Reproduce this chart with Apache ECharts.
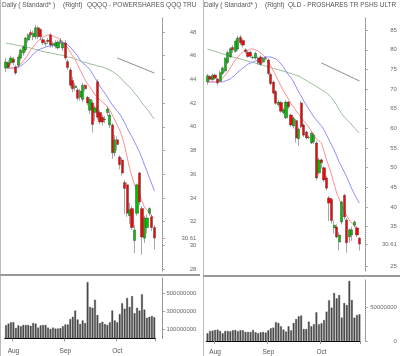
<!DOCTYPE html>
<html><head><meta charset="utf-8">
<script src="https://cdn.jsdelivr.net/npm/echarts@6/dist/echarts.min.js"></script>
<style>html,body{margin:0;padding:0;background:#fff}#c{width:400px;height:356px}</style>
</head><body><div id="c"></div>
<script>
// ---------- data ----------
const dates = ['2008-07-29','2008-07-30','2008-07-31','2008-08-01','2008-08-04','2008-08-05','2008-08-06','2008-08-07','2008-08-08',
'2008-08-11','2008-08-12','2008-08-13','2008-08-14','2008-08-15','2008-08-18','2008-08-19','2008-08-20','2008-08-21','2008-08-22',
'2008-08-25','2008-08-26','2008-08-27','2008-08-28','2008-08-29','2008-09-02','2008-09-03','2008-09-04','2008-09-05',
'2008-09-08','2008-09-09','2008-09-10','2008-09-11','2008-09-12','2008-09-15','2008-09-16','2008-09-17','2008-09-18','2008-09-19',
'2008-09-22','2008-09-23','2008-09-24','2008-09-25','2008-09-26','2008-09-29','2008-09-30','2008-10-01','2008-10-02','2008-10-03',
'2008-10-06','2008-10-07','2008-10-08','2008-10-09','2008-10-10','2008-10-13','2008-10-14','2008-10-15','2008-10-16','2008-10-17',
'2008-10-20','2008-10-21','2008-10-22'];
const monthStarts = ['2008-08-01','2008-09-02','2008-10-01'];
const monthNames = ['Aug','Sep','Oct'];

// QQQQ  [open, close, low, high]
const qqqOHLC = [
[44.96,45.47,44.60,45.80],[45.38,45.05,44.90,45.60],[45.40,45.80,45.20,46.00],[45.70,45.45,45.20,45.90],[45.05,44.54,44.37,45.20],
[45.20,45.89,45.00,46.10],[45.80,46.48,45.60,46.60],[46.23,46.73,46.00,46.90],[46.48,47.50,46.30,47.60],[47.32,47.75,47.10,47.90],
[47.95,47.75,47.50,48.20],[47.60,47.90,47.30,48.10],[47.60,48.35,47.40,48.60],[48.35,47.60,47.40,48.50],[48.20,47.60,47.30,48.30],
[47.35,47.10,46.90,47.50],[47.00,47.05,46.80,47.20],[47.30,47.20,47.00,47.50],[47.75,46.90,46.70,47.90],[46.95,47.00,46.70,47.20],
[46.80,47.10,46.60,47.30],[46.65,47.15,46.50,47.30],[47.20,47.25,47.00,47.50],[46.65,47.07,46.40,47.20],[47.07,45.80,45.60,47.30],
[45.50,45.00,44.80,45.70],[44.80,43.50,43.30,45.00],[43.90,43.20,42.90,44.20],[43.30,43.45,43.00,43.70],[43.10,42.40,42.20,43.30],
[42.50,43.00,42.20,43.20],[42.30,43.50,42.10,43.70],[43.50,43.20,43.00,43.60],[42.50,42.00,41.80,42.60],[41.40,42.30,41.10,42.50],
[42.00,40.20,39.50,42.20],[41.20,41.60,40.50,41.80],[43.80,40.80,40.60,44.00],[41.20,40.40,40.20,41.40],[40.80,40.40,40.10,41.00],
[40.60,40.65,40.30,40.90],[41.20,41.50,40.90,41.70],[40.15,41.00,39.90,41.30],[40.15,37.80,37.30,40.30],[37.80,38.90,37.50,39.30],
[38.90,38.50,38.00,39.20],[37.45,36.80,36.40,37.60],[37.20,36.10,35.90,37.40],[35.30,34.80,32.60,35.50],[35.10,32.70,32.40,35.30],
[32.50,33.00,31.80,33.60],[33.10,31.50,31.30,33.30],[30.40,31.30,29.35,31.70],[32.70,35.10,32.50,35.20],[36.10,33.65,33.40,36.20],
[33.10,30.70,29.20,33.30],[30.60,32.30,30.20,32.50],[31.50,32.30,31.00,32.60],[32.70,33.10,32.50,33.20],[32.40,31.50,31.20,32.60],
[31.50,30.61,29.65,31.70]];
const qqqMaRed = [44.96,44.96,44.96,44.96,45.05,45.13,45.30,45.55,45.81,46.14,46.48,46.73,46.99,47.24,47.41,47.58,47.66,47.75,47.75,47.66,
47.58,47.49,47.32,47.16,46.90,46.65,46.31,45.97,45.64,45.22,44.79,44.37,43.95,43.61,43.36,43.02,42.68,42.51,42.26,42.09,
41.92,41.67,41.42,41.00,40.57,40.15,39.73,39.14,38.38,37.45,36.52,35.76,35.09,34.67,34.24,33.74,33.23,32.98,32.73,32.47,32.30];
const qqqMaBlue = [44.96,44.96,44.96,44.96,44.96,45.05,45.13,45.30,45.47,45.64,45.89,46.14,46.31,46.48,46.57,46.65,46.73,46.78,46.82,46.86,
46.90,46.99,47.07,47.11,47.07,46.90,46.73,46.48,46.23,45.97,45.64,45.38,45.22,45.05,44.79,44.46,44.12,43.78,43.44,43.11,
42.85,42.51,42.18,41.84,41.59,41.33,41.08,40.74,40.32,39.90,39.48,39.14,38.72,38.30,37.87,37.37,36.78,36.27,35.68,35.17,34.58];
const qqqMaGreen = [47.07,47.03,46.99,46.95,46.90,46.86,46.82,46.78,46.73,46.69,46.65,46.57,46.52,46.48,46.40,46.35,46.31,46.27,46.23,46.19,
46.14,46.10,46.06,46.02,45.97,45.89,45.85,45.81,45.72,45.64,45.55,45.47,45.43,45.38,45.30,45.26,45.22,45.13,45.09,45.05,
44.96,44.88,44.79,44.67,44.54,44.37,44.20,43.95,43.78,43.53,43.36,43.11,42.85,42.60,42.35,42.01,41.76,41.50,41.25,40.91,40.66];
const qqqMaGray = [null,null,null,null,null,null,null,null,null,null,null,null,null,null,null,null,null,null,null,null,
null,null,null,null,null,null,null,null,null,null,null,null,null,null,null,null,null,null,null,null,null,null,null,null,null,
45.81,45.72,45.64,45.55,45.47,45.38,45.30,45.22,45.13,45.05,44.96,44.88,44.79,44.71,44.62,44.54];
const qqqVolume = [145,165,180,180,115,145,135,150,150,150,140,170,165,120,145,150,150,120,105,120,
110,110,115,135,155,155,215,240,310,210,160,200,170,625,350,340,430,260,170,185,160,150,180,
310,200,180,270,390,330,450,350,470,280,340,310,490,320,230,240,250,235].map(v => v * 1e6);
const qqqPriceTicks = [28,30,32,34,36,38,40,42,44,46,48,30.61];
const qqqVolTicks = [100000000,300000000,500000000];

// QLD  [open, close, low, high]
const qldOHLC = [
[71.9,73.4,71.1,73.9],[73.2,72.5,72.0,73.6],[72.4,73.5,72.1,74.0],[73.6,72.8,72.4,73.9],[72.6,71.6,71.0,72.8],
[72.0,74.2,71.8,74.8],[74.0,75.4,73.6,75.8],[74.6,77.8,74.2,78.2],[76.8,79.3,76.4,79.8],[78.2,80.3,77.9,80.7],
[80.6,80.0,79.2,81.2],[79.6,82.2,79.3,82.6],[80.2,83.0,79.8,83.6],[83.2,81.8,81.2,83.8],[82.4,81.2,80.6,82.8],
[80.0,79.6,79.0,80.4],[79.4,78.3,78.0,79.8],[79.4,78.4,78.0,79.8],[78.0,78.1,77.6,78.5],[77.9,79.1,77.5,79.5],
[77.9,76.7,76.3,78.3],[78.2,76.3,76.0,78.6],[76.9,77.8,76.6,78.2],[77.9,77.95,77.4,78.3],[77.4,74.0,73.6,77.8],
[73.8,71.4,71.0,74.2],[71.8,69.0,68.6,72.2],[69.4,66.4,66.0,69.8],[66.0,66.7,65.6,67.2],[66.6,64.4,64.0,67.0],
[64.0,64.7,63.6,65.2],[62.7,66.7,62.4,67.2],[66.7,65.5,65.0,67.0],[63.4,60.9,60.4,63.8],[60.6,62.6,60.0,63.0],
[62.0,57.6,56.4,62.4],[57.4,59.8,55.6,60.2],[66.5,60.4,60.0,67.0],[60.9,58.3,57.8,61.3],[59.1,57.6,57.2,59.5],
[57.7,57.8,57.3,58.2],[56.3,58.8,56.0,59.2],[56.6,58.3,56.0,58.8],[56.3,47.4,46.8,56.8],[48.7,52.0,48.2,52.6],
[52.0,51.3,49.8,52.4],[50.0,46.9,46.4,50.4],[47.4,44.8,44.2,48.0],[42.3,41.0,36.4,42.8],[42.0,36.6,35.8,42.4],
[34.7,35.4,33.2,36.6],[34.9,32.4,32.0,35.6],[31.1,32.9,29.0,33.6],[36.2,41.3,35.6,41.6],[43.0,37.5,36.8,43.4],
[36.7,30.9,28.4,37.2],[32.4,34.2,31.0,34.6],[32.9,34.2,31.4,35.0],[35.4,36.2,34.8,36.6],[34.7,32.9,32.4,35.2],
[32.1,30.61,28.9,32.3]];
const qldMaRed = [71.82,71.82,71.82,71.82,72.07,72.33,72.84,73.60,74.36,75.38,76.40,77.42,78.18,78.94,79.45,79.71,79.96,80.22,80.22,79.96,
79.71,79.20,78.69,77.93,76.91,75.89,74.62,73.35,72.07,70.80,69.53,68.51,67.49,66.22,65.46,64.44,63.68,62.66,61.90,61.13,
60.37,59.35,58.33,57.32,56.81,56.30,54.26,51.97,50.19,48.16,45.87,43.58,42.05,40.27,39.00,37.72,36.70,35.94,35.18,34.67,34.41];
const qldMaBlue = [71.82,71.82,71.82,71.82,71.82,71.82,71.82,72.07,72.33,72.58,73.09,73.60,74.36,74.87,75.38,75.89,76.40,76.65,76.91,77.16,
77.42,77.67,77.93,78.18,78.18,78.18,77.93,77.67,77.16,76.40,75.64,74.62,73.60,72.84,71.82,70.55,69.27,68.26,66.98,65.97,
64.95,63.93,62.91,62.15,61.39,60.62,59.61,58.33,57.06,55.79,54.52,52.99,51.46,50.19,48.92,47.65,46.12,44.59,43.32,42.05,41.03];
const qldMaGreen = [80.22,80.01,79.81,79.61,79.40,79.20,78.99,78.79,78.59,78.38,78.18,78.00,77.82,77.65,77.47,77.29,77.11,76.93,76.76,76.58,
76.40,76.22,76.04,75.87,75.64,75.46,75.28,75.10,74.92,74.75,74.57,74.36,74.16,73.96,73.75,73.55,73.35,72.96,72.58,72.20,
71.82,71.44,71.06,70.67,70.29,69.86,69.43,68.99,68.51,67.74,66.98,65.97,64.69,63.80,62.91,62.28,61.64,60.88,60.11,59.48,58.84];
const qldMaGray = [null,null,null,null,null,null,null,null,null,null,null,null,null,null,null,null,null,null,null,null,
null,null,null,null,null,null,null,null,null,null,null,null,null,null,null,null,null,null,null,null,null,null,null,null,null,
76.65,76.35,76.04,75.74,75.43,75.13,74.82,74.52,74.21,73.91,73.60,73.30,72.99,72.68,72.38,72.07];
const qldVolume = [11.5,15,15.5,16.5,17,15,11.5,15,15,14.5,16,16.5,14.5,16,16,13.5,13.5,13.5,16.5,13,11.5,13,13.5,12.5,
16,19,20,28,27,22,17,14,22,16,27,33,37,38,18,18,29,22,25,
43,25,26.5,31.5,44,61,50,72,64,69,35,57,54,90,61.6,35,39,40].map(v => v * 1e6);
const qldPriceTicks = [25,35,40,45,50,55,60,65,70,75,80,85,30.61];
const qldVolTicks = [0,50000000];

// ---------- chart ----------
const FONT = '"Liberation Sans", Arial, sans-serif';
const LBL = '#6a6a6a';
const isMonthStart = (i) => monthStarts.indexOf(dates[i]) >= 0;

const P = [
  {left: 4.76, width: 150.8, offset: 7.1, priceTop: 18, priceH: 253, volTop: 278, volH: 60.5,
   pmin: 27.83, pmax: 49.18, vmax: 672e6, margin: 33.8, xMargin: 9},
  {left: 206.23, width: 154.5, offset: 4.9, priceTop: 18, priceH: 253, volTop: 280, volH: 61,
   pmin: 23.73, pmax: 88.10, vmax: 91.6e6, margin: 31.3, xMargin: 7.5}
];
const priceTicks = [qqqPriceTicks, qldPriceTicks];
const volTicks = [qqqVolTicks, qldVolTicks];

const grid = [], xAxis = [], yAxis = [];
P.forEach((p, k) => {
  grid.push({left: p.left, width: p.width, top: p.priceTop, height: p.priceH});
  grid.push({left: p.left, width: p.width, top: p.volTop, height: p.volH});
  [0, 1].forEach(j => {
    const g = k * 2 + j;
    xAxis.push({
      type: 'category', gridIndex: g, data: dates, boundaryGap: true, show: j === 1,
      axisLine: {show: true, lineStyle: {color: '#000', width: 1}},
      axisTick: {show: true, interval: (i) => isMonthStart(i), length: 3, lineStyle: {color: '#999'}},
      axisLabel: {interval: (i) => isMonthStart(i), formatter: (v) => monthNames[monthStarts.indexOf(v)] || '',
        fontSize: 6.5, color: '#555', fontFamily: FONT, margin: p.xMargin},
      splitLine: {show: false}
    });
    const ticks = j === 0 ? priceTicks[k] : volTicks[k];
    yAxis.push({
      type: 'value', gridIndex: g, position: 'right', offset: p.offset,
      min: j === 0 ? p.pmin : 0, max: j === 0 ? p.pmax : p.vmax,
      axisLine: {show: true, lineStyle: {color: '#888', type: 'dotted', width: 1}},
      axisTick: {show: true, length: 2, customValues: ticks, lineStyle: {color: '#999'}},
      axisLabel: {customValues: ticks, formatter: (v) => String(v), align: 'right', margin: p.margin,
        fontSize: 6, color: LBL, fontFamily: FONT},
      splitLine: {show: false}
    });
  });
});

function lineSeries(data, color, g) {
  return {type: 'line', data, xAxisIndex: g, yAxisIndex: g, symbol: 'none', showSymbol: false,
    lineStyle: {color, width: 1}, z: 1, silent: true, connectNulls: false};
}
function candle(data, g) {
  return {type: 'candlestick', data, xAxisIndex: g, yAxisIndex: g, barWidth: 2.7, z: 3,
    itemStyle: {color: '#00c000', color0: '#ff0000', borderColor: '#3a3a3a', borderColor0: '#3a3a3a', borderWidth: 0.45}};
}
function vol(data, g) {
  return {type: 'bar', data, xAxisIndex: g, yAxisIndex: g, barWidth: 1.7,
    itemStyle: {color: '#555', borderColor: '#111', borderWidth: 0.3}};
}

const series = [
  lineSeries(qqqMaGray, '#8a8a8a', 0), lineSeries(qqqMaGreen, '#9dbb9d', 0),
  lineSeries(qqqMaBlue, '#9090ff', 0), lineSeries(qqqMaRed, '#ff9090', 0),
  candle(qqqOHLC, 0), vol(qqqVolume, 1),
  lineSeries(qldMaGray, '#8a8a8a', 2), lineSeries(qldMaGreen, '#9dbb9d', 2),
  lineSeries(qldMaBlue, '#9090ff', 2), lineSeries(qldMaRed, '#ff9090', 2),
  candle(qldOHLC, 2), vol(qldVolume, 3)
];

function txt(text, x, w) {
  return {type: 'text', left: x, top: 1.5, silent: true,
    style: {text, fill: '#555', font: '6.5px ' + FONT, width: w, overflow: 'truncate', ellipsis: ''}};
}
const graphic = [
  {type: 'line', silent: true, shape: {x1: 0.5, y1: 0, x2: 0.5, y2: 356}, style: {stroke: '#bbb', lineWidth: 1}},
  {type: 'line', silent: true, shape: {x1: 203.5, y1: 0, x2: 203.5, y2: 356}, style: {stroke: '#bbb', lineWidth: 1}},
  {type: 'line', silent: true, shape: {x1: 0, y1: 275, x2: 200, y2: 275}, style: {stroke: '#999', lineWidth: 2}},
  {type: 'line', silent: true, shape: {x1: 203, y1: 276, x2: 400, y2: 276}, style: {stroke: '#999', lineWidth: 2}},
  txt('Daily ( Standard* )', 2, 60), txt('(Right)', 63, 30), txt('QQQQ - POWERSHARES QQQ TRUST', 87, 112),
  txt('Daily ( Standard* )', 204, 60), txt('(Right)', 265, 30), txt('QLD - PROSHARES TR PSHS ULTRA QQQ', 288, 112)
];

const chart = echarts.init(document.getElementById('c'), null, {renderer: 'canvas', width: 400, height: 356});
chart.setOption({animation: false, backgroundColor: '#fff', grid, xAxis, yAxis, series, graphic});
</script>
</body></html>
